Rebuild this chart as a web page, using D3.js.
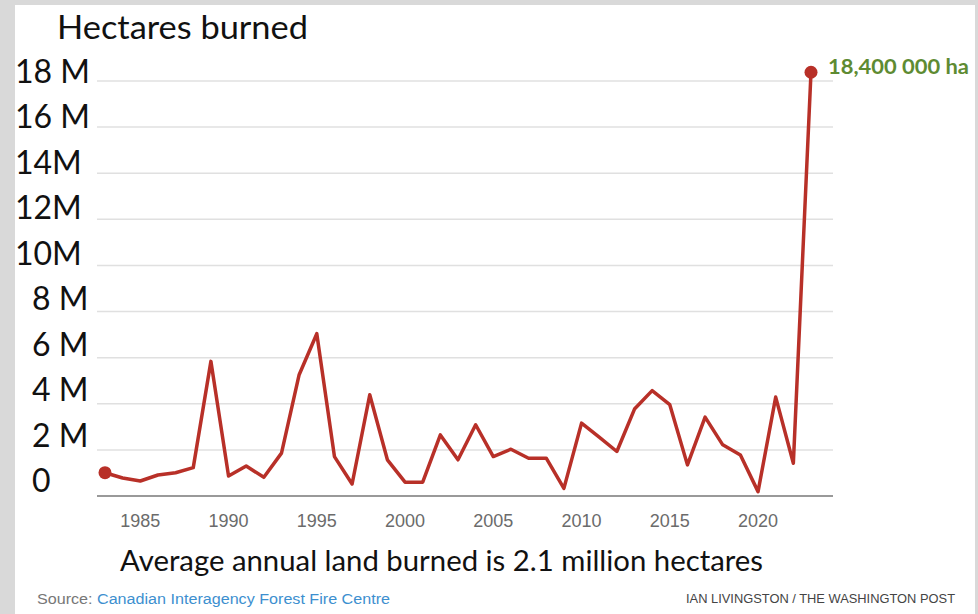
<!DOCTYPE html>
<meta charset="utf-8">
<style>
	body { margin: 0; background: #d9d9d9; }
	svg { display: block; }
</style>
<div id="vis-fireFig"></div>
<script src="https://cdn.jsdelivr.net/npm/d3@7"></script>
<script>
	// hectares burned per year, millions
	const years = d3.range(1983, 2024)
	const hectares = [
		1.01, 0.78, 0.65, 0.91, 1.01, 1.23, 5.84, 0.87, 1.30, 0.81,
		1.86, 5.26, 7.04, 1.71, 0.52, 4.39, 1.57, 0.60, 0.60, 2.65,
		1.57, 3.09, 1.71, 2.03, 1.64, 1.64, 0.33, 3.16, 2.55, 1.93,
		3.77, 4.57, 3.96, 1.35, 3.42, 2.22, 1.78, 0.19, 4.29, 1.42,
		18.38
	]
	const yTicks = [0, 2, 4, 6, 8, 10, 12, 14, 16, 18]
	const yTickLabels = ['0', '2 M', '4 M', '6 M', '8 M', '10M', '12M', '14M', '16 M', '18 M']
	const xTicks = [1985, 1990, 1995, 2000, 2005, 2010, 2015, 2020]

	const width = 978, height = 614

	const svg = d3.select('#vis-fireFig')
		.append('svg')
		.attr('width', width)
		.attr('height', height)

	// white card over the grey frame
	svg.append('rect')
		.attr('x', 15).attr('y', 5)
		.attr('width', 960).attr('height', height - 5)
		.attr('fill', '#fff')

	const x = d3.scaleLinear().domain([1983, 2023]).range([105, 811])
	const y = d3.scaleLinear().domain([0, 18]).range([496, 81])
	// the typed labels sit a little off the gridlines in the original
	const yLabel = d3.scaleLinear().domain([0, 18]).range([492, 83])

	// gridlines
	svg.append('g')
		.selectAll('line')
		.data(yTicks.filter(d => d > 0))
		.enter()
		.append('line')
		.attr('x1', 97).attr('x2', 833)
		.attr('y1', d => y(d)).attr('y2', d => y(d))
		.attr('stroke', '#e0e0e0')
		.attr('stroke-width', 1.5)

	// baseline
	svg.append('line')
		.attr('x1', 97).attr('x2', 833)
		.attr('y1', y(0)).attr('y2', y(0))
		.attr('stroke', '#999')
		.attr('stroke-width', 2)

	// y labels
	svg.append('g')
		.selectAll('text')
		.data(yTicks)
		.enter()
		.append('text')
		.attr('x', d => d >= 10 ? 15 : 32)
		.attr('y', d => yLabel(d))
		.attr('font-family', 'Lato, sans-serif')
		.attr('font-size', 32)
		.attr('fill', '#111')
		.text((d, i) => yTickLabels[i])

	// x labels
	svg.append('g')
		.selectAll('text')
		.data(xTicks)
		.enter()
		.append('text')
		.attr('x', d => x(d))
		.attr('y', 527)
		.attr('text-anchor', 'middle')
		.attr('font-family', '"Liberation Sans", Arial, sans-serif')
		.attr('font-size', 18)
		.attr('fill', '#6b6b6b')
		.text(d => d)

	// line
	const line = d3.line()
		.x((d, i) => x(years[i]))
		.y(d => y(d))

	svg.append('path')
		.datum(hectares)
		.attr('d', line)
		.attr('fill', 'none')
		.attr('stroke', '#b83028')
		.attr('stroke-width', 3.5)
		.attr('stroke-linejoin', 'round')

	const ends = [0, hectares.length - 1]
	svg.append('g')
		.selectAll('circle')
		.data(ends)
		.enter()
		.append('circle')
		.attr('cx', i => x(years[i]))
		.attr('cy', i => y(hectares[i]))
		.attr('r', 6.5)
		.attr('fill', '#b83028')

	// annotation
	svg.append('text')
		.attr('x', 828)
		.attr('y', 74)
		.attr('font-family', 'Lato, sans-serif')
		.attr('font-weight', 'bold')
		.attr('font-size', 21)
		.attr('fill', '#5e8b32')
		.attr('textLength', 141)
		.attr('lengthAdjust', 'spacingAndGlyphs')
		.text('18,400 000 ha')

	// titles
	svg.append('text')
		.attr('x', 57)
		.attr('y', 39)
		.attr('font-family', 'Lato, sans-serif')
		.attr('font-size', 32)
		.attr('fill', '#111')
		.attr('textLength', 251)
		.attr('lengthAdjust', 'spacingAndGlyphs')
		.text('Hectares burned')

	svg.append('text')
		.attr('x', 120)
		.attr('y', 571)
		.attr('font-family', 'Lato, sans-serif')
		.attr('font-size', 29)
		.attr('fill', '#111')
		.attr('textLength', 643)
		.attr('lengthAdjust', 'spacingAndGlyphs')
		.text('Average annual land burned is 2.1 million hectares')

	const src = svg.append('text')
		.attr('x', 37)
		.attr('y', 604)
		.attr('font-family', '"Liberation Sans Narrow", "Liberation Sans", Arial, sans-serif')
		.attr('font-size', 14)
		.attr('textLength', 353)
		.attr('lengthAdjust', 'spacingAndGlyphs')
	src.append('tspan').attr('fill', '#777').text('Source: ')
	src.append('tspan').attr('fill', '#3d8fcf').text('Canadian Interagency Forest Fire Centre')

	svg.append('text')
		.attr('x', 686)
		.attr('y', 603)
		.attr('font-family', '"Liberation Sans Narrow", "Liberation Sans", Arial, sans-serif')
		.attr('font-size', 12.5)
		.attr('fill', '#444')
		.attr('textLength', 269)
		.attr('lengthAdjust', 'spacingAndGlyphs')
		.text('IAN LIVINGSTON / THE WASHINGTON POST')
</script>
